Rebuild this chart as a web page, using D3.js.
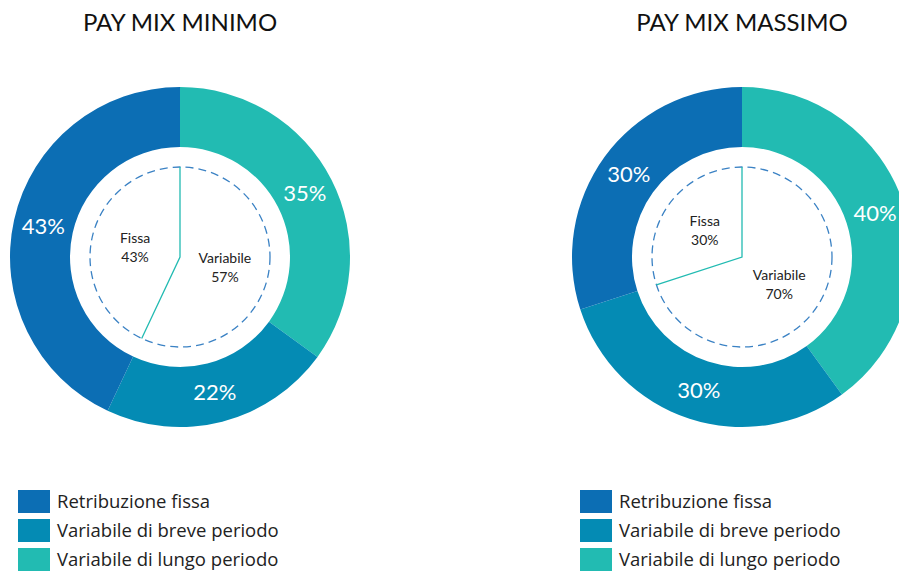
<!DOCTYPE html>
<html><head><meta charset="utf-8">
<script src="https://cdn.jsdelivr.net/npm/d3@7"></script>
<style>body{margin:0;background:#fff}svg{display:block}</style>
</head><body><div id="chart"></div>
<script>
const titles = ["PAY MIX MINIMO", "PAY MIX MASSIMO"];
const categories = ["Variabile di lungo periodo", "Variabile di breve periodo", "Retribuzione fissa"];
const minimoValues = [35, 22, 43];
const massimoValues = [40, 30, 30];
const innerCategories = ["Variabile", "Fissa"];
const minimoInner = [57, 43];
const massimoInner = [70, 30];
const legendOrder = ["Retribuzione fissa", "Variabile di breve periodo", "Variabile di lungo periodo"];

const colors = {"Retribuzione fissa":"#0C6EB4","Variabile di breve periodo":"#048BB4","Variabile di lungo periodo":"#22BBB2"};
const W = 899, H = 571;
const svg = d3.select("#chart").append("svg").attr("width", W).attr("height", H);
const font = "Lato, 'Open Sans', sans-serif";
const legendFont = "'Open Sans', Lato, sans-serif";

const charts = [
  {title: titles[0], values: minimoValues, inner: minimoInner, cx: 180, legendX: 18},
  {title: titles[1], values: massimoValues, inner: massimoInner, cx: 742, legendX: 580}
];
const cy = 257;
const pie = d3.pie().sort(null).value(d => d.v);
const outerArc = d3.arc().innerRadius(110).outerRadius(170);
const labelArc = d3.arc().innerRadius(140).outerRadius(140);
const innerLabelArc = d3.arc().innerRadius(46).outerRadius(46);

charts.forEach(c => {
  const g = svg.append("g").attr("transform", `translate(${c.cx},${cy})`);
  const data = pie(categories.map((k, i) => ({k, v: c.values[i]})));
  g.selectAll("path.seg").data(data).join("path").attr("class","seg")
    .attr("d", outerArc).attr("fill", d => colors[d.data.k]);
  g.selectAll("text.pct").data(data).join("text").attr("class","pct")
    .attr("transform", d => `translate(${labelArc.centroid(d)})`)
    .attr("text-anchor","middle").attr("dy","0.35em")
    .attr("fill","#fff").attr("font-family", font).attr("font-size", 22)
    .text(d => d.data.v + "%");
  g.append("circle").attr("r", 90).attr("fill","none")
    .attr("stroke","#3B82C4").attr("stroke-width",1.3).attr("stroke-dasharray","8,5");
  const innerData = pie(innerCategories.map((k, i) => ({k, v: c.inner[i]})));
  const r = 90;
  const ang = innerData[0].endAngle;
  g.append("path")
    .attr("d", `M0,${-r}L0,0L${r*Math.sin(ang)},${-r*Math.cos(ang)}`)
    .attr("fill","none").attr("stroke","#22BBB2").attr("stroke-width",1.3);
  innerData.forEach(d => {
    const [x, y] = innerLabelArc.centroid(d);
    const t = g.append("text").attr("text-anchor","middle")
      .attr("font-family", font).attr("font-size", 14).attr("fill","#222")
      .attr("transform", `translate(${x},${y})`);
    t.append("tspan").attr("x",0).attr("dy","-0.3em").text(d.data.k);
    t.append("tspan").attr("x",0).attr("dy","1.4em").text(d.data.v + "%");
  });
  svg.append("text").attr("x", c.cx).attr("y", 31).attr("text-anchor","middle")
    .attr("font-family", font).attr("font-size", 24).attr("fill","#111").text(c.title);
  const lg = svg.append("g").attr("transform", `translate(${c.legendX},490)`);
  legendOrder.forEach((k, i) => {
    lg.append("rect").attr("x",0).attr("y", i*29).attr("width",32).attr("height",23).attr("fill",colors[k]);
    lg.append("text").attr("x",39).attr("y", i*29+11.5).attr("dy","0.35em")
      .attr("font-family", legendFont).attr("font-size",18.5).attr("fill","#222").text(k);
  });
});
</script></body></html>
